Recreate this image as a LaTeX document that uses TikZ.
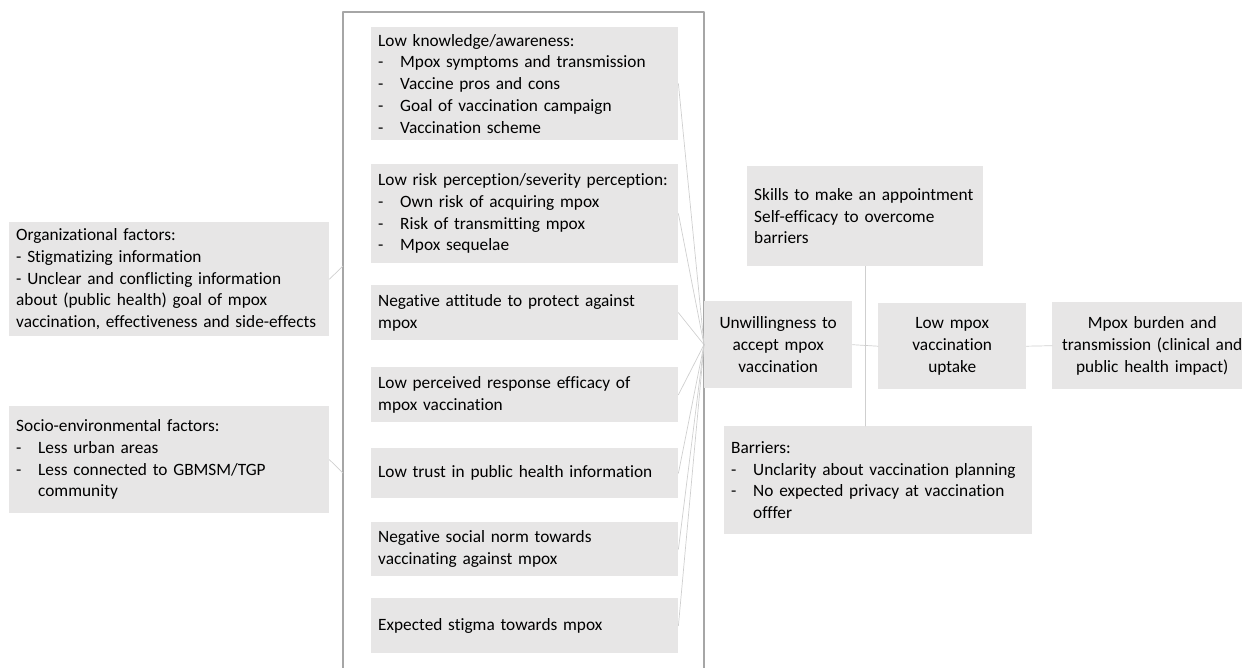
\documentclass[tikz,border=0pt]{standalone}
\usepackage{fontspec}
\setmainfont{Carlito}[Ligatures=NoCommon]
\definecolor{boxgray}{HTML}{E7E6E6}
\definecolor{linkgray}{HTML}{CFCFCF}
\definecolor{framegray}{HTML}{A6A6A6}
\newcommand{\itemdash}{\makebox[22pt][l]{-}}
\newcommand{\itemgap}{\hspace*{22pt}}
\hyphenpenalty=10000 \exhyphenpenalty=10000
\begin{document}
\begin{tikzpicture}[x=1pt, y=-1pt, line join=round, line cap=round,
    font=\fontsize{17.3}{21.7}\selectfont,
    box/.style={anchor=north west, fill=boxgray, inner xsep=7pt, inner ysep=0pt, align=left},
    cbox/.style={box, inner xsep=3pt, align=center},
    link/.style={draw=linkgray, line width=0.7pt}]
    \useasboundingbox (0,0) rectangle (1242,668);
    % frame round the individual factors
    \draw[framegray, line width=1.6pt] (343,672) |- (704,12) -- (704,672);
    % environment factors
    \node[box, text width=306pt, minimum width=320pt, minimum height=114pt] (org) at (9,222)
        {Organizational factors:\\- Stigmatizing information\\- Unclear and conflicting information\\about (public health) goal of mpox\\vaccination, effectiveness and side-effects};
    \node[box, text width=306pt, minimum width=320pt, minimum height=107pt] (socio) at (9,406)
        {Socio-environmental factors:\\\itemdash Less urban areas\\\itemdash Less connected to GBMSM/TGP\\\itemgap community};
    % individual factors
    \node[box, text width=293pt, minimum width=307pt, minimum height=113pt] (know) at (371,27)
        {Low knowledge/awareness:\\\itemdash Mpox symptoms and transmission\\\itemdash Vaccine pros and cons\\\itemdash Goal of vaccination campaign\\\itemdash Vaccination scheme};
    \node[box, text width=293pt, minimum width=307pt, minimum height=99pt] (risk) at (371,164)
        {Low risk perception/severity perception:\\\itemdash Own risk of acquiring mpox\\\itemdash Risk of transmitting mpox\\\itemdash Mpox sequelae};
    \node[box, text width=293pt, minimum width=307pt, minimum height=55pt] (att) at (371,285)
        {Negative attitude to protect against\\mpox};
    \node[box, text width=293pt, minimum width=307pt, minimum height=55pt] (eff) at (371,367)
        {Low perceived response efficacy of\\mpox vaccination};
    \node[box, text width=293pt, minimum width=307pt, minimum height=50pt] (trust) at (371,448)
        {Low trust in public health information};
    \node[box, text width=293pt, minimum width=307pt, minimum height=54pt] (norm) at (371,522)
        {Negative social norm towards\\vaccinating against mpox};
    \node[box, text width=293pt, minimum width=307pt, minimum height=55pt] (stig) at (371,598)
        {Expected stigma towards mpox};
    % intention, behaviour and outcome
    \node[cbox, text width=142pt, minimum width=148pt, minimum height=87pt] (unw) at (704,301)
        {Unwillingness to\\accept mpox\\vaccination};
    \node[box, text width=222pt, minimum width=236pt, minimum height=100pt] (skill) at (747,166)
        {Skills to make an appointment\\Self-efficacy to overcome\\barriers};
    \node[cbox, text width=142pt, minimum width=148pt, minimum height=86pt] (upt) at (878,303)
        {Low mpox\\vaccination\\uptake};
    \node[box, text width=294pt, minimum width=308pt, minimum height=108pt] (barr) at (724,426)
        {Barriers:\\\itemdash Unclarity about vaccination planning\\\itemdash No expected privacy at vaccination\\\itemgap offfer};
    \node[cbox, text width=194pt, minimum width=200pt, minimum height=87pt] (burden) at (1052,302)
        {Mpox burden and\\transmission (clinical and\\public health impact)};
    % connectors
    \coordinate (forg) at (343,266);
    \coordinate (fsocio) at (343,473);
    \draw[link] (org.east) -- (forg);
    \draw[link] (socio.east) -- (fsocio);
    \foreach \n in {know,risk,att,eff,trust,norm,stig}
        \draw[link] (\n.east) -- (unw.west);
    \draw[link] (unw.east) -- (upt.west);
    \draw[link] (upt.east) -- (burden.west);
    \draw[link] (skill.south) -- (skill.south |- barr.north);
\end{tikzpicture}
\end{document}
